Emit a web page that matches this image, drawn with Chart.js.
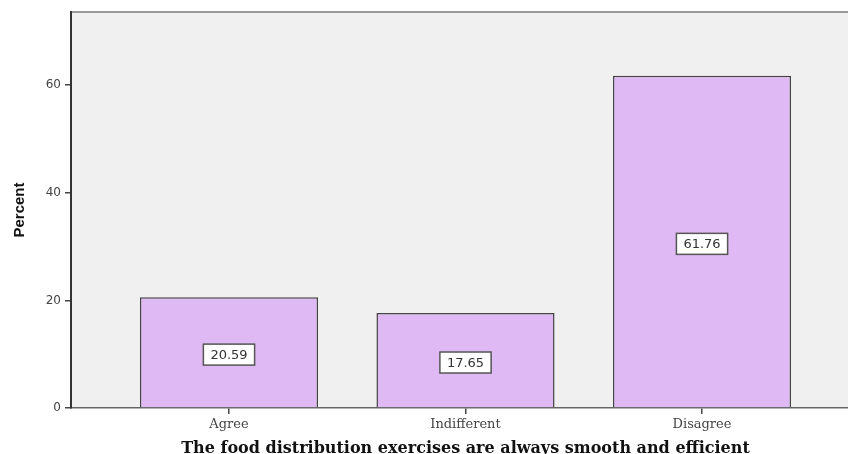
<!DOCTYPE html>
<html lang="en">
<head>
    <meta charset="UTF-8">
    <title>Food distribution exercises</title>
    <script src="https://cdn.jsdelivr.net/npm/chart.js"></script>
    <style>
        html, body {
            margin: 0;
            padding: 0;
            background-color: #fff;
            overflow: hidden;
        }

        #wrap {
            width: 860px;
            height: 458px;
        }
    </style>
</head>
<body>
    <div id="wrap"><canvas id="barChart"></canvas></div>

    <script>
        // Data
        var categories = ['Agree', 'Indifferent', 'Disagree'];
        var percents = [20.59, 17.65, 61.76];
        var yTicks = [0, 20, 40, 60];
        var yMax = 73.6;
        var xTitle = 'The food distribution exercises are always smooth and efficient';
        var yTitle = 'Percent';

        // Plot area background and top frame line
        var plotFrame = {
            id: 'plotFrame',
            beforeDraw: function(chart) {
                var ctx = chart.ctx;
                var a = chart.chartArea;
                ctx.save();
                ctx.fillStyle = '#f0f0f0';
                ctx.fillRect(a.left, a.top, a.right - a.left, a.bottom - a.top);
                ctx.strokeStyle = '#9a9a9a';
                ctx.lineWidth = 2;
                ctx.beginPath();
                ctx.moveTo(a.left, a.top);
                ctx.lineTo(a.right, a.top);
                ctx.stroke();
                ctx.restore();
            }
        };

        // Boxed value labels in the middle of each bar
        var valueBoxes = {
            id: 'valueBoxes',
            afterDatasetsDraw: function(chart) {
                var ctx = chart.ctx;
                var xs = chart.scales.x;
                var ys = chart.scales.y;
                ctx.save();
                ctx.font = '13px "DejaVu Sans"';
                ctx.textAlign = 'center';
                ctx.textBaseline = 'middle';
                percents.forEach(function(v, i) {
                    var label = v.toFixed(2);
                    var cx = xs.getPixelForValue(i);
                    var cy = ys.getPixelForValue(v / 2) + 2;
                    var w = ctx.measureText(label).width + 14;
                    var h = 21;
                    ctx.fillStyle = '#fff';
                    ctx.fillRect(cx - w / 2, cy - h / 2, w, h);
                    ctx.strokeStyle = '#555';
                    ctx.lineWidth = 1.5;
                    ctx.strokeRect(cx - w / 2, cy - h / 2, w, h);
                    ctx.fillStyle = '#333';
                    ctx.fillText(label, cx, cy + 1);
                });
                ctx.restore();
            }
        };

        var ctx = document.getElementById('barChart').getContext('2d');
        var myChart = new Chart(ctx, {
            type: 'bar',
            data: {
                datasets: [{
                    label: yTitle,
                    data: percents.map(function(v, i) { return { x: i, y: v }; }),
                    backgroundColor: '#dfb9f3',
                    borderColor: '#444',
                    borderWidth: 1.5,
                    categoryPercentage: 1,
                    barPercentage: 0.753
                }]
            },
            options: {
                responsive: true,
                maintainAspectRatio: false,
                animation: false,
                layout: { padding: { top: 12, left: 0, right: 0, bottom: 0 } },
                plugins: {
                    legend: { display: false },
                    tooltip: { enabled: false }
                },
                scales: {
                    x: {
                        type: 'linear',
                        min: -0.668,
                        max: 2.668,
                        offset: false,
                        afterFit: function(scale) { scale.height = 50; },
                        afterBuildTicks: function(scale) {
                            scale.ticks = categories.map(function(c, i) { return { value: i }; });
                        },
                        ticks: {
                            callback: function(value) { return categories[value]; },
                            font: { family: '"DejaVu Serif"', size: 13 },
                            color: '#444',
                            padding: 3,
                            maxRotation: 0,
                            autoSkip: false
                        },
                        grid: {
                            offset: false,
                            drawOnChartArea: false,
                            tickLength: 6,
                            color: '#444',
                            lineWidth: 1.5
                        },
                        border: { color: '#666', width: 1.5 },
                        title: {
                            display: true,
                            text: xTitle,
                            font: { family: '"DejaVu Serif"', size: 16, weight: 'bold' },
                            color: '#111',
                            padding: { top: 0, bottom: 0 }
                        }
                    },
                    y: {
                        min: 0,
                        max: yMax,
                        afterFit: function(scale) { scale.width = 71; },
                        afterBuildTicks: function(scale) {
                            scale.ticks = yTicks.map(function(v) { return { value: v }; });
                        },
                        ticks: {
                            font: { family: '"DejaVu Sans"', size: 12 },
                            color: '#444',
                            padding: 4
                        },
                        grid: {
                            drawOnChartArea: false,
                            tickLength: 6,
                            color: '#444',
                            lineWidth: 1.5
                        },
                        border: { color: '#333', width: 2 },
                        title: {
                            display: true,
                            text: yTitle,
                            font: { family: '"Liberation Sans Narrow", "Liberation Sans"', size: 15, weight: 'bold' },
                            color: '#111',
                            padding: { top: 11, bottom: 0 }
                        }
                    }
                }
            },
            plugins: [plotFrame, valueBoxes]
        });
    </script>
</body>
</html>
